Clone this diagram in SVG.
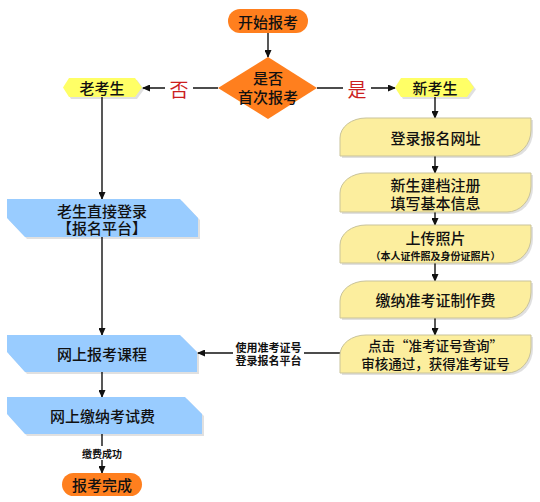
<svg xmlns="http://www.w3.org/2000/svg" width="540" height="502" viewBox="0 0 540 502">
<defs>
<marker id="arr" markerWidth="8" markerHeight="7" refX="7" refY="3.5" orient="auto" markerUnits="userSpaceOnUse">
<path d="M0,0 L8,3.5 L0,7 Z" fill="#111"/>
</marker>
</defs>
<style>
text{font-family:"Noto Sans CJK SC","Noto Sans",sans-serif;fill:#111;text-anchor:middle;dominant-baseline:central}
.t15{font-size:15px;font-weight:500}
.t13{font-size:13.5px;font-weight:500}
.t11{font-size:11px;font-weight:bold}
.t10{font-size:10px;font-weight:bold}
.red{font-size:19px;fill:#cc1f1f}
.orange{fill:#ff7f1e}
.hex{fill:#ffff66}
.yb{fill:#fcee9e;stroke:#c9c39a;stroke-width:1}
.bb{fill:#99ccff}
.sh{fill:#000;opacity:0.12}
.ln{stroke:#111;stroke-width:1.4;fill:none}
.ar{marker-end:url(#arr)}
</style>
<rect width="540" height="502" fill="#fff"/>

<g id="connectors">
<line class="ln ar" x1="268" y1="33" x2="268" y2="57"/>
<line class="ln ar" x1="218" y1="88" x2="143" y2="88"/>
<line class="ln ar" x1="317" y1="88" x2="395" y2="88"/>
<line class="ln ar" x1="435" y1="97" x2="435" y2="118"/>
<line class="ln ar" x1="435" y1="156" x2="435" y2="173"/>
<line class="ln ar" x1="435" y1="212" x2="435" y2="225"/>
<line class="ln ar" x1="435" y1="263" x2="435" y2="281"/>
<line class="ln ar" x1="435" y1="318" x2="435" y2="335"/>
<line class="ln ar" x1="340" y1="353" x2="198" y2="353"/>
<line class="ln ar" x1="102" y1="97" x2="102" y2="199"/>
<line class="ln ar" x1="102" y1="237" x2="102" y2="335"/>
<line class="ln ar" x1="102" y1="372" x2="102" y2="397"/>
<line class="ln ar" x1="102" y1="434" x2="102" y2="473"/>
<rect x="165" y="79" width="28" height="20" fill="#fff"/>
<text class="red" x="179" y="88">否</text>
<rect x="343" y="79" width="28" height="20" fill="#fff"/>
<text class="red" x="357" y="88">是</text>
<rect x="233" y="340" width="71" height="27" fill="#fff"/>
<text class="t11"><tspan x="268.5" y="347">使用准考证号</tspan><tspan x="268.5" y="360">登录报名平台</tspan></text>
<rect x="78" y="446" width="48" height="14" fill="#fff"/>
<text class="t10" x="102" y="453">缴费成功</text>
</g>

<g id="start">
<rect class="orange" x="228" y="9" width="80" height="24" rx="12"/>
<text class="t15" x="268" y="21">开始报考</text>
</g>

<g id="decision">
<polygon class="orange" points="268,57 317,88 268,119 218,88"/>
<text class="t15"><tspan x="268" y="77">是否</tspan><tspan x="268" y="96">首次报考</tspan></text>
</g>

<g id="old">
<polygon class="sh" points="71,80 137,80 144,89.5 137,99 71,99 65,89.5"/>
<polygon class="hex" points="69,78 135,78 142,87.5 135,97 69,97 63,87.5"/>
<text class="t15" x="102" y="87.5">老考生</text>
</g>

<g id="new">
<polygon class="sh" points="403,80 469,80 476,89.5 469,99 403,99 397,89.5"/>
<polygon class="hex" points="401,78 467,78 474,87.5 467,97 401,97 395,87.5"/>
<text class="t15" x="435" y="87.5">新考生</text>
</g>

<g id="step1">
<path class="sh" d="M342,158 L342,140 A26 20 0 0 1 368,120 L533,120 L533,132 A24 26 0 0 1 509,158 Z"/>
<path class="yb" d="M340,156 L340,138 A26 20 0 0 1 366,118 L531,118 L531,130 A24 26 0 0 1 507,156 Z"/>
<text class="t15" x="435.5" y="137">登录报名网址</text>
</g>

<g id="step2">
<path class="sh" d="M342,214 L342,195 A26 20 0 0 1 368,175 L533,175 L533,188 A24 26 0 0 1 509,214 Z"/>
<path class="yb" d="M340,212 L340,193 A26 20 0 0 1 366,173 L531,173 L531,186 A24 26 0 0 1 507,212 Z"/>
<text class="t15"><tspan x="435.5" y="184">新生建档注册</tspan><tspan x="435.5" y="202">填写基本信息</tspan></text>
</g>

<g id="step3">
<path class="sh" d="M342,265 L342,247 A26 20 0 0 1 368,227 L533,227 L533,239 A24 26 0 0 1 509,265 Z"/>
<path class="yb" d="M340,263 L340,245 A26 20 0 0 1 366,225 L531,225 L531,237 A24 26 0 0 1 507,263 Z"/>
<text class="t15" x="435.5" y="237">上传照片</text>
<text class="t10" x="435.5" y="255">（本人证件照及身份证照片）</text>
</g>

<g id="step4">
<path class="sh" d="M342,320 L342,303 A26 20 0 0 1 368,283 L533,283 L533,294 A24 26 0 0 1 509,320 Z"/>
<path class="yb" d="M340,318 L340,301 A26 20 0 0 1 366,281 L531,281 L531,292 A24 26 0 0 1 507,318 Z"/>
<text class="t15" x="435.5" y="299.5">缴纳准考证制作费</text>
</g>

<g id="step5">
<path class="sh" d="M342,375 L342,357 A26 20 0 0 1 368,337 L533,337 L533,349 A24 26 0 0 1 509,375 Z"/>
<path class="yb" d="M340,373 L340,355 A26 20 0 0 1 366,335 L531,335 L531,347 A24 26 0 0 1 507,373 Z"/>
<text class="t13"><tspan x="435.5" y="345">点击“准考证号查询”</tspan><tspan x="435.5" y="363">审核通过，获得准考证号</tspan></text>
</g>

<g id="login">
<polygon class="sh" points="9,201 182,201 200,220 200,239 27,239 9,220"/>
<polygon class="bb" points="7,199 180,199 198,218 198,237 25,237 7,218"/>
<text class="t15"><tspan x="102" y="209.5">老生直接登录</tspan><tspan x="102" y="227">【报名平台】</tspan></text>
</g>

<g id="course">
<polygon class="sh" points="9,337 182,337 199,354 199,374 27,374 9,354"/>
<polygon class="bb" points="7,335 180,335 197,352 197,372 25,372 7,352"/>
<text class="t15" x="102" y="353.5">网上报考课程</text>
</g>

<g id="fee">
<polygon class="sh" points="9,399 187,399 204,416 204,436 27,436 9,416"/>
<polygon class="bb" points="7,397 185,397 202,414 202,434 25,434 7,414"/>
<text class="t15" x="102.5" y="415.5">网上缴纳考试费</text>
</g>

<g id="done">
<rect class="orange" x="62" y="473" width="80" height="23" rx="11.5"/>
<text class="t15" x="102" y="484.5">报考完成</text>
</g>
</svg>
